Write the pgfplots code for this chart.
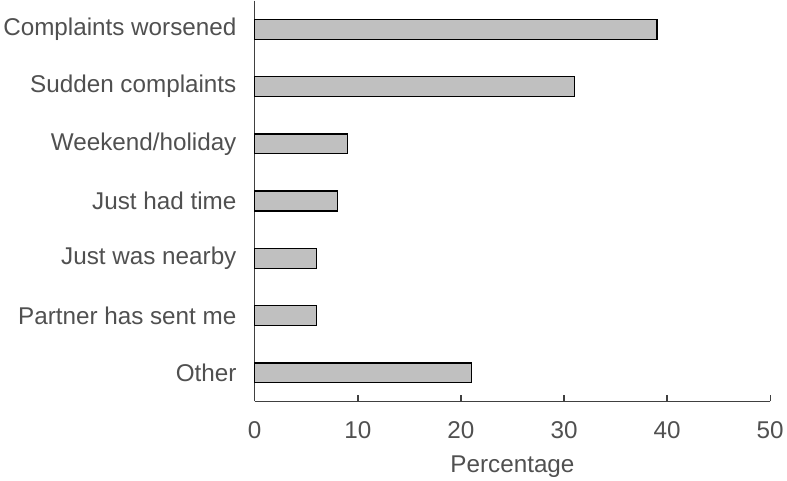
\documentclass[border=0pt]{standalone}
\usepackage{fontspec}
\setmainfont{Liberation Sans}
\usepackage{pgfplots}
\pgfplotsset{compat=1.18}
\definecolor{txt}{HTML}{505050}
\definecolor{axc}{HTML}{404040}
\definecolor{barc}{HTML}{C0C0C0}
\begin{document}
\begin{tikzpicture}
\begin{axis}[
  scale only axis,
  width=521pt, height=405pt,
  xmin=0, xmax=50, ymin=-0.5, ymax=6.5,
  y dir=reverse,
  xbar, bar width=20pt,
  axis x line*=bottom, axis y line*=left,
  axis line style={axc, line width=1.4pt},
  xtick={0,10,20,30,40,50},
  ytick={0,1,2,3,4,5,6},
  yticklabels={Complaints worsened,Sudden complaints,Weekend/holiday,Just had time,Just was nearby,Partner has sent me,Other},
  x tick style={axc, line width=1.4pt},
  y tick style={draw=none},
  tick align=inside,
  major tick length=6pt,
  /pgf/number format/assume math mode=true,
  tick label style={font=\fontsize{24.5}{29}\selectfont, text=txt},
  xticklabel style={yshift=-17pt},
  yticklabel style={xshift=-15pt},
  xlabel={Percentage},
  xlabel style={font=\fontsize{24.5}{29}\selectfont, text=txt, yshift=-10pt},
  clip=false,
]
\addplot[fill=barc, draw=black, line width=1.4pt] coordinates {
  (39,0) (31,1) (9,2) (8,3) (6,4) (6,5) (21,6)
};
\end{axis}
\end{tikzpicture}
\end{document}
